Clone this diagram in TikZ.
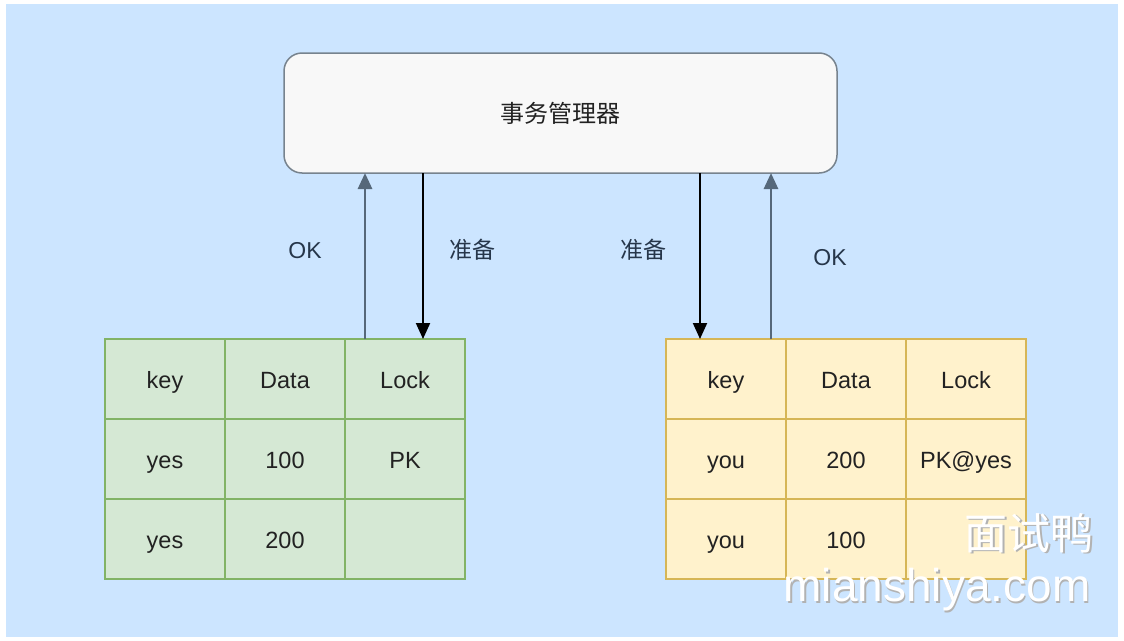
\documentclass[tikz,border=0pt]{standalone}
\usepackage{fontspec}
\setmainfont{Liberation Sans}
\newfontfamily\cjk{Noto Sans CJK SC}
\usetikzlibrary{arrows.meta}
\definecolor{bgblue}{HTML}{CCE5FF}
\definecolor{mgrfill}{HTML}{F8F8F8}
\definecolor{mgrline}{HTML}{77838E}
\definecolor{greenfill}{HTML}{D5E8D4}
\definecolor{greenline}{HTML}{82B366}
\definecolor{yellowfill}{HTML}{FFF2CC}
\definecolor{yellowline}{HTML}{D6B656}
\definecolor{okline}{HTML}{56687A}
\definecolor{txt}{HTML}{222222}
\definecolor{lbltxt}{HTML}{26364A}
\begin{document}
\begin{tikzpicture}[x=1pt, y=-1pt,
    cell/.style={draw, line width=1.5pt, minimum width=120pt, minimum height=80pt,
      inner sep=0pt, outer sep=0pt, text=txt, text height=20pt, text depth=2pt,
      font=\fontsize{23.5}{27}\selectfont},
    gcell/.style={cell, fill=greenfill, draw=greenline},
    ycell/.style={cell, fill=yellowfill, draw=yellowline},
    mgr/.style={draw=mgrline, fill=mgrfill, line width=1.5pt, rounded corners=18pt,
      minimum width=553pt, minimum height=120pt, outer sep=0pt, text=txt,
      font=\fontsize{24}{28}\selectfont\cjk},
    lbl/.style={text=lbltxt, font=\fontsize{23}{27}\selectfont},
    uparrow/.style={draw=okline, line width=2.8pt, -{Triangle[width=14pt,length=16pt]}},
    downarrow/.style={draw=black, line width=2pt, -{Triangle[width=14pt,length=16pt]}},
    wm/.style={text=white, font=\fontsize{46}{52}\selectfont},
    wmshadow/.style={text=black!30, font=\fontsize{46}{52}\selectfont}
  ]
  \useasboundingbox (0,0) rectangle (1124,640);
  \fill[white] (0,0) rectangle (1124,640);
  \fill[bgblue] (6,4) rectangle (1118,637);

  % transaction manager
  \node[mgr] (mgr) at (560.5,113) {事务管理器};

  % left table
  \foreach \r/\ka/\kb/\kc in {0/key/Data/Lock,1/yes/100/PK,2/yes/200/{}} {
    \node[gcell] (L\r0) at (165, 379+80*\r) {\ka};
    \node[gcell] (L\r1) at (285, 379+80*\r) {\kb};
    \node[gcell] (L\r2) at (405, 379+80*\r) {\kc};
  }
  % right table
  \foreach \r/\ka/\kb/\kc in {0/key/Data/Lock,1/you/200/PK@yes,2/you/100/{}} {
    \node[ycell] (R\r0) at (726, 379+80*\r) {\ka};
    \node[ycell] (R\r1) at (846, 379+80*\r) {\kb};
    \node[ycell] (R\r2) at (966, 379+80*\r) {\kc};
  }

  % arrows
  \coordinate (okL) at (365,0);
  \coordinate (prepL) at (423,0);
  \coordinate (prepR) at (700,0);
  \coordinate (okR) at (771,0);
  \draw[uparrow] (okL |- L02.north) -- (okL |- mgr.south);
  \draw[downarrow] (prepL |- mgr.south) -- (prepL |- L02.north);
  \draw[downarrow] (prepR |- mgr.south) -- (prepR |- R00.north);
  \draw[uparrow] (okR |- R00.north) -- (okR |- mgr.south);

  \node[lbl] (okLtxt) at (305,251) {OK};
  \node[lbl, font=\fontsize{23}{27}\selectfont\cjk] (prepLtxt) at (472,250) {准备};
  \node[lbl, font=\fontsize{23}{27}\selectfont\cjk] (prepRtxt) at (643,250) {准备};
  \node[lbl] (okRtxt) at (830,258) {OK};

  % watermark
  \node[wmshadow, font=\fontsize{43}{48}\selectfont\cjk] (wmcnS) at (1030.5,534.5) {面试鸭};
  \node[wm, font=\fontsize{43}{48}\selectfont\cjk] (wmcn) at (1029,533) {面试鸭};
  \node[wmshadow] (wmurlS) at (938.5,591.5) {mianshiya.com};
  \node[wm] (wmurl) at (937,590) {mianshiya.com};
\end{tikzpicture}
\end{document}
